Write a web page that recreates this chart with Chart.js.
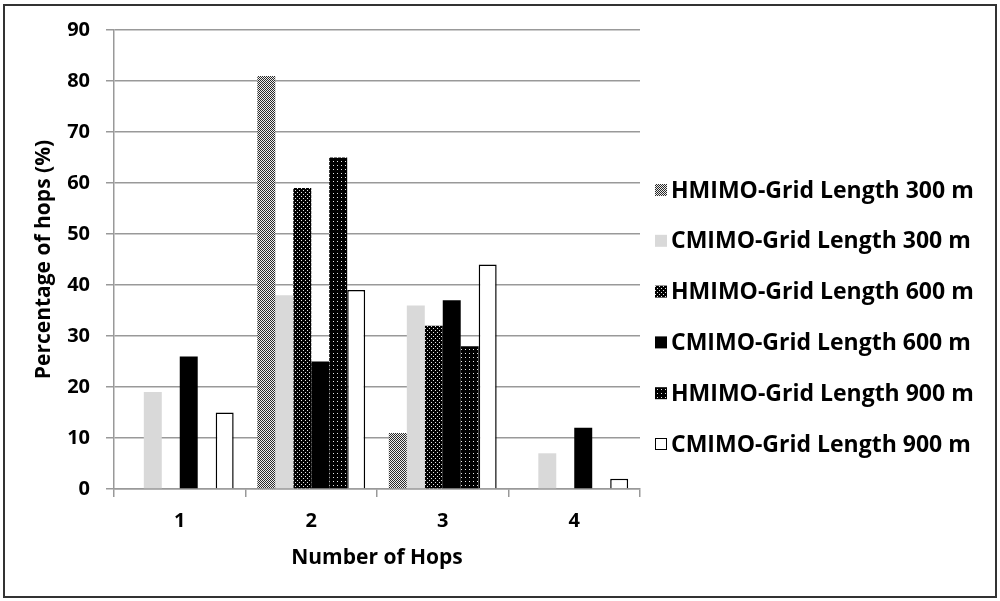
<!DOCTYPE html>
<html>
<head>
<meta charset="utf-8">
<script src="https://cdn.jsdelivr.net/npm/chart.js@4"></script>
<style>
    html, body { margin: 0; padding: 0; background: #fff; }
    #wrap { position: relative; width: 1000px; height: 601px; }
    #frame { position: absolute; left: 3px; top: 4px; width: 990px; height: 590px; border: 2px solid #333; pointer-events: none; }
</style>
</head>
<body>
<div id="wrap">
    <canvas id="chartCanvas" width="1000" height="601"></canvas>
    <div id="frame"></div>
</div>
<script>
const hops = ["1", "2", "3", "4"];
const hmimo300 = [0, 81, 11, 0];
const cmimo300 = [19, 38, 36, 7];
const hmimo600 = [0, 59, 32, 0];
const cmimo600 = [26, 25, 37, 12];
const hmimo900 = [0, 65, 28, 0];
const cmimo900 = [15, 39, 44, 2];
const yTicks = [0, 10, 20, 30, 40, 50, 60, 70, 80, 90];

const FONT = "'Open Sans'";

// small tile patterns, like the Excel fills
function makePattern(size, bg, fg, dots) {
    const c = document.createElement("canvas");
    c.width = size;
    c.height = size;
    const g = c.getContext("2d");
    g.fillStyle = bg;
    g.fillRect(0, 0, size, size);
    g.fillStyle = fg;
    dots.forEach(d => g.fillRect(d[0], d[1], 1, 1));
    return g.createPattern(c, "repeat");
}

const ctx = document.getElementById("chartCanvas").getContext("2d");
const checker = makePattern(2, "#eeeeee", "#2a2a2a", [[0, 0], [1, 1]]);
const dots600 = makePattern(4, "#000000", "#e6e6e6", [[1, 0], [3, 2]]);
const dots900 = makePattern(4, "#000000", "#e6e6e6", [[1, 1]]);

const datasets = [
    { label: "HMIMO-Grid Length 300 m", data: hmimo300, backgroundColor: checker, borderWidth: 0 },
    { label: "CMIMO-Grid Length 300 m", data: cmimo300, backgroundColor: "#d9d9d9", borderWidth: 0 },
    { label: "HMIMO-Grid Length 600 m", data: hmimo600, backgroundColor: dots600, borderWidth: 0 },
    { label: "CMIMO-Grid Length 600 m", data: cmimo600, backgroundColor: "#000000", borderWidth: 0 },
    { label: "HMIMO-Grid Length 900 m", data: hmimo900, backgroundColor: dots900, borderWidth: 0 },
    { label: "CMIMO-Grid Length 900 m", data: cmimo900, backgroundColor: "#ffffff", borderColor: "#000000", borderWidth: 1.5 }
];

// legend drawn at the right, spaced like the original
const sideLegend = {
    id: "sideLegend",
    afterDraw(chart) {
        const c = chart.ctx;
        const x0 = 655, y0 = 190, step = 50.8, box = 12;
        c.save();
        c.font = "bold 23px " + FONT;
        c.textBaseline = "middle";
        chart.data.datasets.forEach((ds, i) => {
            const y = y0 + i * step;
            c.fillStyle = ds.backgroundColor;
            c.fillRect(x0, y - box / 2, box, box);
            if (ds.borderWidth) {
                c.strokeStyle = "#000";
                c.lineWidth = 1;
                c.strokeRect(x0 + 0.5, y - box / 2 + 0.5, box - 1, box - 1);
            }
            c.fillStyle = "#000";
            c.fillText(ds.label, x0 + box + 4, y + 1);
        });
        c.restore();
    }
};

new Chart(ctx, {
    type: "bar",
    data: { labels: hops, datasets: datasets },
    plugins: [sideLegend],
    options: {
        responsive: false,
        animation: false,
        layout: { padding: { left: 20, right: 360, top: 30, bottom: 26 } },
        datasets: { bar: { barPercentage: 1, categoryPercentage: 0.82 } },
        plugins: {
            legend: { display: false },
            tooltip: { enabled: false }
        },
        scales: {
            x: {
                grid: { offset: true, drawOnChartArea: false, tickLength: 8, color: "#999", lineWidth: 1.5 },
                border: { color: "#999", width: 1.5 },
                ticks: { color: "#000", padding: 12, font: { family: FONT, size: 20, weight: "bold" } },
                title: { display: true, text: "Number of Hops", color: "#000", padding: { top: 4, bottom: 4 }, font: { family: FONT, size: 21, weight: "bold" } },
                afterFit(s) { s.height = 601 - 489 - 26; }
            },
            y: {
                min: 0,
                max: 90,
                afterBuildTicks(s) { s.ticks = yTicks.map(v => ({ value: v })); },
                grid: { tickLength: 8, color: "#999", lineWidth: 1.5 },
                border: { color: "#999", width: 1.5 },
                ticks: { color: "#000", padding: 16, font: { family: FONT, size: 20, weight: "bold" } },
                title: { display: true, text: "Percentage of hops (%)", color: "#000", padding: { top: 11, bottom: 4 }, font: { family: FONT, size: 21, weight: "bold" } },
                afterFit(s) { s.width = 94; }
            }
        }
    }
});
</script>
</body>
</html>
